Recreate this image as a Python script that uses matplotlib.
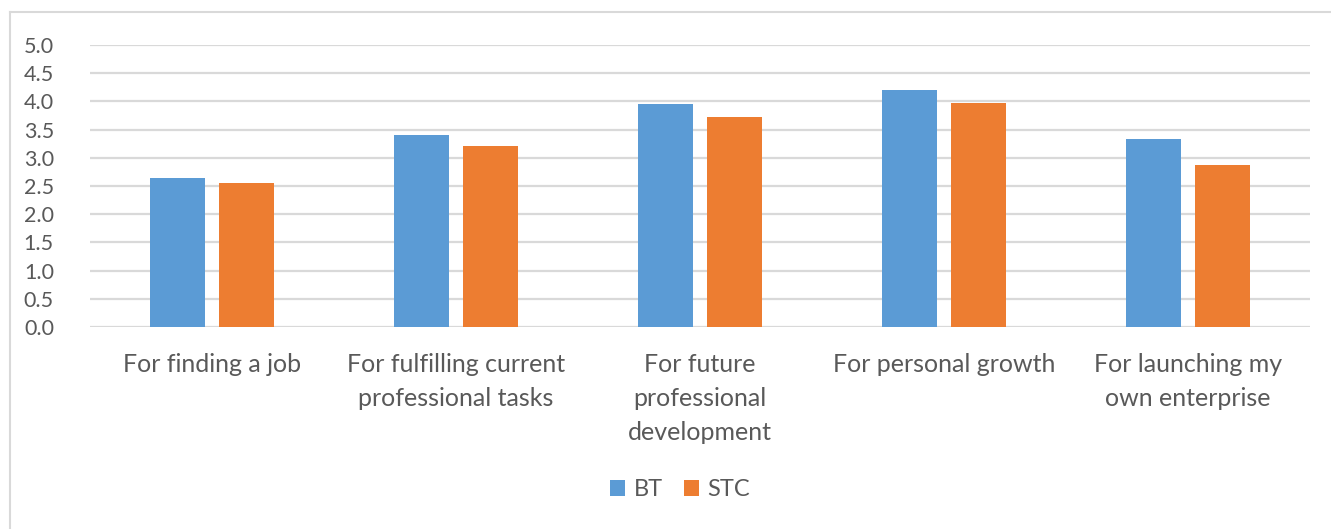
import matplotlib.pyplot as plt
import numpy as np
from matplotlib.lines import Line2D

# --- data ---
categories = ["For finding a job",
              "For fulfilling current\nprofessional tasks",
              "For future\nprofessional\ndevelopment",
              "For personal growth",
              "For launching my\nown enterprise"]
bt = [2.64, 3.40, 3.95, 4.20, 3.34]
stc = [2.56, 3.21, 3.72, 3.98, 2.88]
y_ticks = [0.0, 0.5, 1.0, 1.5, 2.0, 2.5, 3.0, 3.5, 4.0, 4.5, 5.0]

BLUE = '#5b9bd5'
ORANGE = '#ed7d31'
TXT = '#595959'
GRID = '#d9d9d9'

plt.rcParams['font.family'] = ['Lato', 'DejaVu Sans']

W, H = 1331, 529
fig = plt.figure(figsize=(W / 100, H / 100), dpi=100)
ax = fig.add_axes([90 / W, 1 - 327 / H, 1220 / W, (327 - 45) / H])

x = np.arange(len(categories))
bw = 0.225
off = 0.1425
ax.bar(x - off, bt, bw, color=BLUE, label='BT', zorder=3)
ax.bar(x + off, stc, bw, color=ORANGE, label='STC', zorder=3)

ax.set_xlim(-0.5, len(categories) - 0.5)
ax.set_ylim(0, 5)
ax.set_yticks(y_ticks)
ax.set_yticklabels([f"{v:.1f}" for v in y_ticks], fontsize=15.5, color=TXT)
ax.set_xticks(x)
ax.set_xticklabels(categories, fontsize=18, color=TXT, linespacing=1.56, va='top')
ax.tick_params(axis='both', length=0)
ax.tick_params(axis='y', pad=26)
ax.tick_params(axis='x', pad=19)
ax.grid(axis='y', color=GRID, linewidth=1.6, zorder=0)
for s in ax.spines.values():
    s.set_visible(False)

ax.legend(loc='center', bbox_to_anchor=(680 / W, 1 - 490 / H), bbox_transform=fig.transFigure,
          ncol=2, frameon=False, fontsize=17, handlelength=0.65, handleheight=0.65,
          handletextpad=0.35, columnspacing=0.9, labelcolor=TXT)

# chart border (partly cropped in the reference)
fig.add_artist(Line2D([10 / W, 1], [1 - 12 / H, 1 - 12 / H], transform=fig.transFigure,
                      color=GRID, linewidth=1.5))
fig.add_artist(Line2D([10 / W, 10 / W], [1 - 12 / H, 0], transform=fig.transFigure,
                      color=GRID, linewidth=1.5))

fig.savefig('out.png', dpi=100, facecolor='white')
